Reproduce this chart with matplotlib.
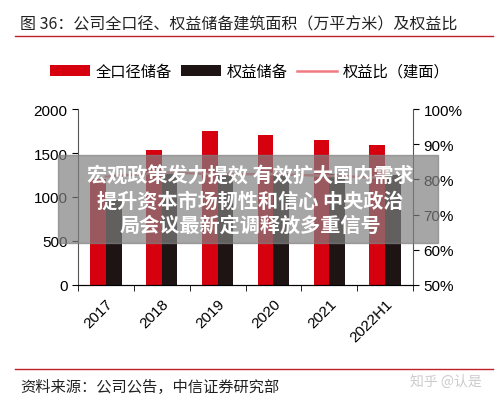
import matplotlib.pyplot as plt
import matplotlib.patches as mpatches
import numpy as np

plt.rcParams['font.family'] = ['Noto Sans CJK SC', 'DejaVu Sans']

years = ["2017", "2018", "2019", "2020", "2021", "2022H1"]
total = [1200, 1530, 1750, 1700, 1650, 1590]
equity = [970, 1260, 1270, 1270, 1260, 1250]
ratio = [80.8, 82.0, 81.5, 81.5, 81.0, 80.5]

fig = plt.figure(figsize=(5.0, 4.02), dpi=100)
ax = fig.add_axes([0.156, 0.289, 0.670, 0.437])
x = np.arange(len(years))
w = 0.28
ax.bar(x - w / 2, total, w, color="#d7000f", label="全口径储备")
ax.bar(x + w / 2, equity, w, color="#1e1414", label="权益储备")
ax.set_ylim(0, 2000)
ax.set_xlim(-0.5, len(years) - 0.5)
ax.set_yticks([0, 500, 1000, 1500, 2000])
ax.set_xticks(x)
ax.set_xticklabels(years, rotation=45, ha="right", rotation_mode="anchor", fontsize=11,
                   family="Liberation Sans")
ax.set_xticks(np.arange(-0.5, len(years)), minor=True)
ax.tick_params(axis="x", which="major", length=0, pad=8)
ax.tick_params(axis="x", which="minor", length=4, direction="out")
ax.tick_params(axis="y", labelsize=11, direction="out", length=4)
for t in ax.get_yticklabels():
    t.set_family("Liberation Sans")
for s in ["top", "right"]:
    ax.spines[s].set_visible(False)

ax2 = ax.twinx()
ax2.plot(x, ratio, color="#f07a80", lw=1.8, label="权益比（建面）")
ax2.set_ylim(50, 100)
ax2.set_yticks([50, 60, 70, 80, 90, 100])
ax2.set_yticklabels([f"{v}%" for v in [50, 60, 70, 80, 90, 100]], fontsize=11, family="Liberation Sans")
ax2.tick_params(axis="y", direction="out", length=4)
for s in ["top", "left"]:
    ax2.spines[s].set_visible(False)
ax.spines["left"].set_color("#555555")
ax2.spines["right"].set_color("#555555")

h1, l1 = ax.get_legend_handles_labels()
h2, l2 = ax2.get_legend_handles_labels()
fig.legend(h1 + h2, l1 + l2, loc="center", bbox_to_anchor=(0.5, 0.82), ncol=3, frameon=False,
           fontsize=11, handlelength=2.6, columnspacing=0.6, handletextpad=0.4)

fig.text(0.04, 0.938, "图 36：公司全口径、权益储备建筑面积（万平方米）及权益比", fontsize=11.5,
         va="center", color="#222222")
fig.add_artist(plt.Line2D([0.03, 0.985], [0.908, 0.908], color="#c0202a", lw=1))
fig.add_artist(plt.Line2D([0.03, 0.985], [0.08, 0.08], color="#c0202a", lw=1))
fig.text(0.04, 0.036, "资料来源：公司公告，中信证券研究部", fontsize=11, va="center", color="#222222")
fig.text(0.82, 0.05, "知乎 @认是", fontsize=10, va="center", color="#cccccc")

# overlay banner
fig.add_artist(mpatches.Rectangle((0.116, 0.393), 0.76, 0.219, transform=fig.transFigure,
                                  color="#808080", alpha=0.7, zorder=10))
fig.text(0.5, 0.5, "宏观政策发力提效 有效扩大国内需求\n提升资本市场韧性和信心 中央政治\n局会议最新定调释放多重信号",
         ha="center", va="center", fontsize=14.5, color="white", weight="bold", zorder=11,
         linespacing=1.2)

fig.savefig("out.png", dpi=100)
